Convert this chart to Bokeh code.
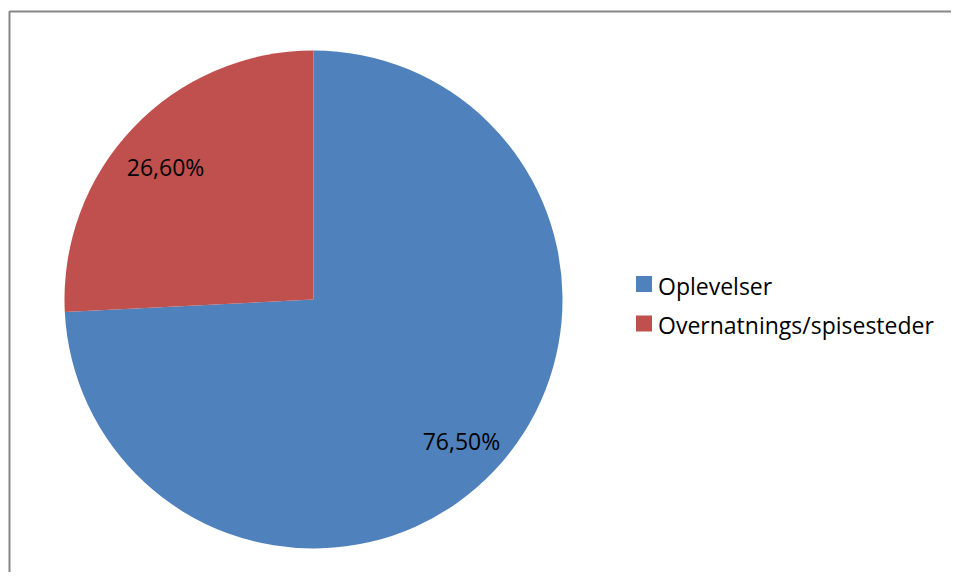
import math
from bokeh.plotting import figure
from bokeh.models import Range1d, ColumnDataSource
from bokeh.core.properties import value
from bokeh.embed import file_html
from bokeh.resources import INLINE

categories = ["Oplevelser", "Overnatnings/spisesteder"]
values = [76.5, 26.6]
colors = ["#4F81BD", "#C0504D"]

W, H = 951, 572
p = figure(width=W, height=H, output_backend="svg", toolbar_location=None,
           x_range=Range1d(0, W), y_range=Range1d(0, H), min_border=0,
           outline_line_color=None, background_fill_color="white",
           border_fill_color="white")
p.axis.visible = False
p.grid.visible = False

# chart border (top and left visible in the crop)
p.line([9, 9, W + 5], [0, H - 11, H - 11], line_color="#878787", line_width=2)

cx, cy, r = 313, H - 299, 249
total = sum(values)
starts, ends, mids = [], [], []
a = math.pi / 2
for v in values:
    span = 2 * math.pi * v / total
    starts.append(a)
    ends.append(a - span)
    mids.append(a - span / 2)
    a -= span

src = ColumnDataSource(dict(start=starts, end=ends, color=colors, cat=categories))
p.wedge(x=cx, y=cy, radius=r, start_angle="start", end_angle="end",
        direction="clock", fill_color="color", line_color=None, source=src)

labels = [f"{v:.2f}".replace(".", ",") + "%" for v in values]
lx = [cx + 0.82 * r * math.cos(m) for m in mids]
ly = [cy + 0.80 * r * math.sin(m) - 4.5 for m in mids]
p.text(x=lx, y=ly, text=labels, text_font=value("Open Sans"),
       text_font_size="23px", text_align="center", text_baseline="middle",
       text_color="black")

# legend
leg_x, leg_y0, leg_dy = 643.5, H - 283.5, 39.5
ys = [leg_y0 - i * leg_dy for i in range(len(categories))]
p.scatter(x=[leg_x] * len(categories), y=ys, marker="square", size=16,
          fill_color=colors, line_color=None)
p.text(x=[leg_x + 14] * len(categories), y=[y - 1.5 for y in ys], text=categories,
       text_font=value("Open Sans"), text_font_size="23px",
       text_align="left", text_baseline="middle", text_color="black")

open("out.html", "w").write(file_html(p, INLINE))
